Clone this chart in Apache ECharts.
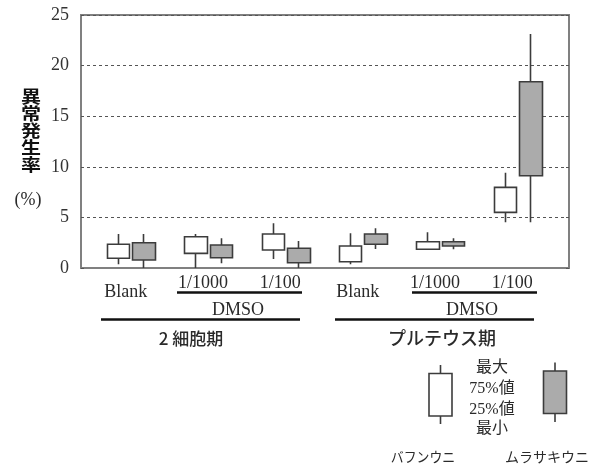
<!DOCTYPE html>
<html>
<head>
<meta charset="utf-8">
<script src="https://cdn.jsdelivr.net/npm/echarts@6/dist/echarts.min.js"></script>
<style>
  html, body { margin: 0; padding: 0; background: #fff; }
  #chart { width: 615px; height: 468px; }
</style>
</head>
<body>
<div id="chart"></div>
<script>
// Treatment conditions along the x axis (three per developmental stage)
const categories = ['Blank', '1/1000', '1/100', 'Blank', '1/1000', '1/100'];
const stageNames = ['2 細胞期', 'プルテウス期'];
const solventName = 'DMSO';
const yTicks = [0, 5, 10, 15, 20, 25];
const yName = '異常発生率';
const yUnit = '(%)';
const speciesNames = ['バフンウニ', 'ムラサキウニ'];
const statNames = ['最大', '75%値', '25%値', '最小'];

// Abnormality rate (%) – バフンウニ
const bafunMin = [0.37, 0.00, 0.89, 0.37, 1.85, 4.52];
const bafunQ1  = [0.96, 1.45, 1.78, 0.62, 1.85, 5.50];
const bafunQ3  = [2.34, 3.09, 3.36, 2.17, 2.60, 7.97];
const bafunMax = [3.36, 3.36, 4.42, 3.43, 3.53, 9.42];

// Abnormality rate (%) – ムラサキウニ
const murasakiMin = [0.00, 0.46, 0.00, 1.88, 1.85, 4.52];
const murasakiQ1  = [0.79, 1.02, 0.52, 2.34, 2.17, 9.12];
const murasakiQ3  = [2.50, 2.27, 1.95, 3.36, 2.60, 18.41];
const murasakiMax = [3.36, 2.93, 2.67, 3.92, 2.93, 23.12];

// candlestick order: [open, close, lowest, highest] -> [Q1, Q3, min, max]
function toBoxes(mn, q1, q3, mx) {
  return q1.map((v, i) => [v, q3[i], mn[i], mx[i]]);
}

const SERIF = "'Liberation Serif', 'DejaVu Serif', 'Noto Sans CJK JP', serif";
const GOTHIC = "'Noto Sans CJK JP', sans-serif";
const FRAME = '#808080';
const INK = '#2a2a2a';
const BOX_EDGE = '#3c3c3c';
const GRAY_FILL = '#ababab';

const gridTop = 15, gridBottom = 200;

const chart = echarts.init(document.getElementById('chart'), null, { renderer: 'canvas' });

function hiddenX(gridIndex) {
  return { type: 'category', gridIndex, data: categories, show: false };
}
function hiddenY(gridIndex) {
  return { type: 'value', gridIndex, min: 0, max: 25, interval: 5, show: false };
}

const option = {
  animation: false,
  backgroundColor: '#fff',
  grid: [
    // frame with value axis and dashed grid lines
    { left: 81, right: 46, top: gridTop, bottom: gridBottom, show: true, borderColor: FRAME, borderWidth: 2, backgroundColor: 'transparent' },
    // バフンウニ boxes (left of each pair)
    { left: 80, right: 71, top: gridTop, bottom: gridBottom },
    // ムラサキウニ boxes (right of each pair)
    { left: 105.5, right: 45.5, top: gridTop, bottom: gridBottom },
    // condition labels centred under each pair
    { left: 87, right: 64, top: gridTop, bottom: gridBottom }
  ],
  xAxis: [
    {
      type: 'category', gridIndex: 0, data: categories,
      axisLine: { show: true, lineStyle: { color: FRAME, width: 2 } },
      axisTick: { show: false }, axisLabel: { show: false }
    },
    hiddenX(1),
    hiddenX(2),
    {
      type: 'category', gridIndex: 3, data: categories,
      axisLine: { show: false }, axisTick: { show: false },
      axisLabel: {
        show: true, interval: 0, hideOverlap: false, margin: 6, color: INK, fontFamily: SERIF, fontSize: 18,
        formatter: v => v === 'Blank' ? '{b|' + v + '}' : v,
        rich: { b: { fontFamily: SERIF, fontSize: 18, color: INK, padding: [9, 0, 0, 0] } }
      }
    }
  ],
  yAxis: [
    {
      type: 'value', gridIndex: 0, min: yTicks[0], max: yTicks[yTicks.length - 1], interval: 5,
      axisLine: { show: true, lineStyle: { color: FRAME, width: 2 } },
      axisTick: { show: true, inside: true, length: 3, lineStyle: { color: '#555' } },
      axisLabel: { margin: 12, color: '#333', fontFamily: SERIF, fontSize: 18 },
      splitLine: { show: true, lineStyle: { color: '#555', width: 1, type: [3, 3] } }
    },
    hiddenY(1),
    hiddenY(2),
    hiddenY(3),
    {
      type: 'value', gridIndex: 0, position: 'right', min: 0, max: 25, interval: 5,
      axisLine: { show: false }, axisLabel: { show: false }, splitLine: { show: false },
      axisTick: { show: true, inside: true, length: 3, lineStyle: { color: '#555' } }
    }
  ],
  series: [
    {
      name: speciesNames[0], type: 'candlestick', xAxisIndex: 1, yAxisIndex: 1,
      barWidth: 23,
      itemStyle: { color: '#ffffff', color0: '#ffffff', borderColor: BOX_EDGE, borderColor0: BOX_EDGE, borderWidth: 1.6 },
      data: toBoxes(bafunMin, bafunQ1, bafunQ3, bafunMax)
    },
    {
      name: speciesNames[1], type: 'candlestick', xAxisIndex: 2, yAxisIndex: 2,
      barWidth: 23,
      itemStyle: { color: GRAY_FILL, color0: GRAY_FILL, borderColor: BOX_EDGE, borderColor0: BOX_EDGE, borderWidth: 1.6 },
      data: toBoxes(murasakiMin, murasakiQ1, murasakiQ3, murasakiMax)
    }
  ]
};
chart.setOption(option);

// Annotations: DMSO brackets, stage brackets, axis title and the key
const lineStyle = { stroke: '#111', lineWidth: 2.5 };
const g = [];
function hLine(x1, x2, y) {
  g.push({ type: 'line', shape: { x1, y1: y, x2, y2: y }, style: lineStyle, silent: true });
}
function text(str, x, y, font, extra) {
  g.push(Object.assign({ type: 'text', x, y, style: { text: str, x: 0, y: 0, align: 'center', verticalAlign: 'middle', font, fill: INK } }, extra || {}));
}

// DMSO sub-brackets (under 1/1000 and 1/100)
hLine(177, 302, 292.5);
hLine(412, 537, 292.5);
text(solventName, 238, 310, '18px ' + SERIF);
text(solventName, 472, 310, '18px ' + SERIF);
// developmental stage brackets
hLine(101, 300, 319.5);
hLine(335, 534, 319.5);
text(stageNames[0], 191, 339, '500 17px ' + GOTHIC);
text(stageNames[1], 442, 338, '500 18px ' + GOTHIC);

// vertical axis title
g.push({
  type: 'text', x: 31, y: 88, scaleY: 0.85,
  style: { text: yName.split('').join('\n'), x: 0, y: 0, align: 'center', verticalAlign: 'top', font: 'bold 20px ' + GOTHIC, lineHeight: 20, fill: '#111' }
});
text(yUnit, 28, 200, '18px ' + SERIF);

// key: box glyphs
function keyBox(cx, top, bottom, wTop, wBottom, fill) {
  g.push({ type: 'line', shape: { x1: cx, y1: wTop, x2: cx, y2: wBottom }, style: { stroke: BOX_EDGE, lineWidth: 1.6 } });
  g.push({ type: 'rect', shape: { x: cx - 11.5, y: top, width: 23, height: bottom - top }, style: { fill, stroke: BOX_EDGE, lineWidth: 1.6 } });
}
keyBox(440.5, 373.5, 416, 365, 424, '#ffffff');
keyBox(555, 371, 413.5, 362.5, 422, GRAY_FILL);
const statY = [368, 389, 409.5, 429];
statNames.forEach((s, i) => text(s, 492, statY[i], '16px ' + SERIF));
text(speciesNames[0], 423, 458, '14px ' + SERIF, { scaleX: 0.92 });
text(speciesNames[1], 547, 458, '14px ' + SERIF);

chart.setOption({ graphic: g });
</script>
</body>
</html>
